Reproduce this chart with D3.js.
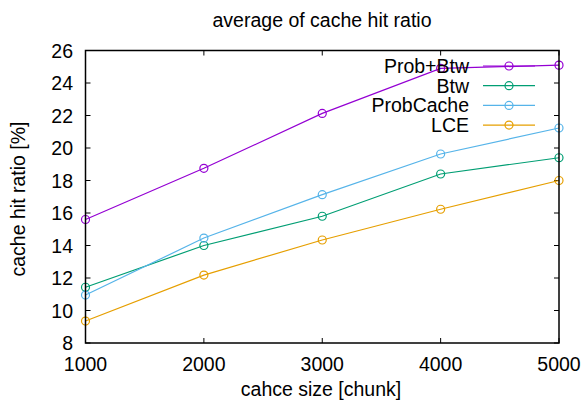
<!DOCTYPE html>
<html>
<head>
<meta charset="utf-8">
<script src="https://cdn.jsdelivr.net/npm/d3@7"></script>
<style>
  body { margin: 0; background: #fff; }
  svg text { font-family: "Liberation Sans", Arial, sans-serif; fill: #000; }
</style>
</head>
<body>
<svg id="chart" width="585" height="403"></svg>
<script>
const cacheSizes = [1000, 2000, 3000, 4000, 5000];
const probBtw = [15.6, 18.75, 22.13, 24.9, 25.1];
const btw = [11.43, 14.0, 15.8, 18.4, 19.4];
const probCache = [10.95, 14.46, 17.13, 19.63, 21.23];
const lce = [9.35, 12.18, 14.34, 16.23, 18.0];
const yTicks = [8, 10, 12, 14, 16, 18, 20, 22, 24, 26];

const series = [
  {name: 'Prob+Btw', values: probBtw, color: '#9400d3'},
  {name: 'Btw', values: btw, color: '#009e73'},
  {name: 'ProbCache', values: probCache, color: '#56b4e9'},
  {name: 'LCE', values: lce, color: '#e69f00'}
];

const svg = d3.select('#chart');
const plotL = 85.5, plotR = 559, plotT = 50.5, plotB = 343;
const fs = '19.5px';

const x = d3.scaleLinear().domain([1000, 5000]).range([plotL, plotR]);
const y = d3.scaleLinear().domain([8, 26]).range([plotB, plotT]);

// ticks (inward, mirrored)
const tickLen = 5;
const axisG = svg.append('g').attr('stroke', '#000').attr('stroke-width', 1);
cacheSizes.forEach(v => {
  axisG.append('line').attr('x1', x(v)).attr('x2', x(v)).attr('y1', plotB).attr('y2', plotB - tickLen);
  axisG.append('line').attr('x1', x(v)).attr('x2', x(v)).attr('y1', plotT).attr('y2', plotT + tickLen);
});
yTicks.forEach(v => {
  axisG.append('line').attr('x1', plotL).attr('x2', plotL + tickLen).attr('y1', y(v)).attr('y2', y(v));
  axisG.append('line').attr('x1', plotR).attr('x2', plotR - tickLen).attr('y1', y(v)).attr('y2', y(v));
});

svg.append('g').selectAll('text')
  .data(cacheSizes)
  .enter()
  .append('text')
  .attr('x', d => x(d))
  .attr('y', 371)
  .attr('text-anchor', 'middle')
  .attr('font-size', fs)
  .text(d => d);

svg.append('g').selectAll('text')
  .data(yTicks)
  .enter()
  .append('text')
  .attr('x', 73)
  .attr('y', d => y(d) + 7)
  .attr('text-anchor', 'end')
  .attr('font-size', fs)
  .text(d => d);

// lines + markers
const line = d3.line()
  .x((d, i) => x(cacheSizes[i]))
  .y(d => y(d));

series.forEach(s => {
  svg.append('path')
    .attr('d', line(s.values))
    .attr('fill', 'none')
    .attr('stroke', s.color)
    .attr('stroke-width', 1.2);
  svg.append('g').selectAll('circle')
    .data(s.values)
    .enter()
    .append('circle')
    .attr('cx', (d, i) => x(cacheSizes[i]))
    .attr('cy', d => y(d))
    .attr('r', 4)
    .attr('fill', 'none')
    .attr('stroke', s.color)
    .attr('stroke-width', 1.2);
});

// legend
const legend = svg.append('g');
series.forEach((s, i) => {
  const ly = 66 + i * 19.7;
  legend.append('text')
    .attr('x', 469)
    .attr('y', ly + 7)
    .attr('text-anchor', 'end')
    .attr('font-size', fs)
    .text(s.name);
  legend.append('line')
    .attr('x1', 483).attr('x2', 535)
    .attr('y1', ly).attr('y2', ly)
    .attr('stroke', s.color)
    .attr('stroke-width', 1.2);
  legend.append('circle')
    .attr('cx', 509).attr('cy', ly).attr('r', 4)
    .attr('fill', 'none')
    .attr('stroke', s.color)
    .attr('stroke-width', 1.2);
});

// frame
svg.append('rect')
  .attr('x', plotL).attr('y', plotT)
  .attr('width', plotR - plotL).attr('height', plotB - plotT)
  .attr('fill', 'none')
  .attr('stroke', '#000')
  .attr('stroke-width', 1.5);

svg.append('text')
  .attr('x', 322)
  .attr('y', 27)
  .attr('text-anchor', 'middle')
  .attr('font-size', fs)
  .text('average of cache hit ratio');

svg.append('text')
  .attr('x', 321)
  .attr('y', 396)
  .attr('text-anchor', 'middle')
  .attr('font-size', fs)
  .text('cahce size [chunk]');

svg.append('text')
  .attr('transform', 'translate(25,199) rotate(-90)')
  .attr('text-anchor', 'middle')
  .attr('font-size', fs)
  .text('cache hit ratio [%]');
</script>
</body>
</html>
